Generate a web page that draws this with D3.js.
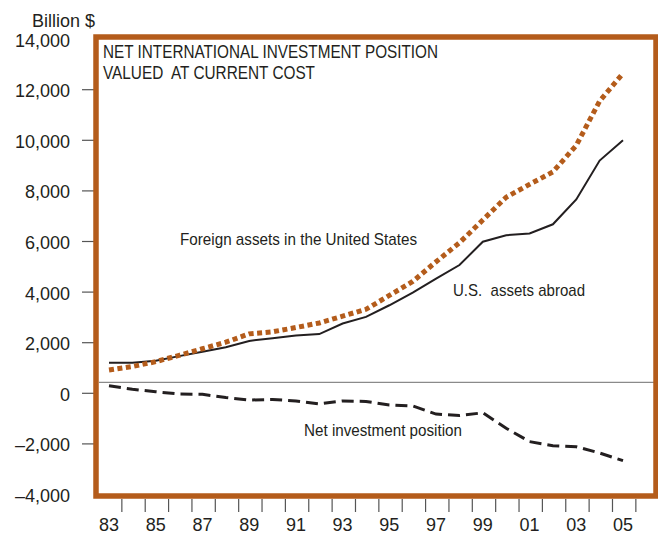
<!DOCTYPE html>
<html>
<head>
<meta charset="utf-8">
<script src="https://cdn.jsdelivr.net/npm/d3@7"></script>
<style>
  body { margin: 0; background: #fff; }
  text { font-family: "Liberation Sans", Arial, Helvetica, sans-serif; fill: #231f20; }
</style>
</head>
<body>
<svg id="chart" width="658" height="536"></svg>
<script>
// Data (billion $)
const years = d3.range(1983, 2006);
const foreignAssets = [920, 1060, 1250, 1500, 1760, 2020, 2350, 2430, 2600, 2780, 3050, 3320,
  3870, 4420, 5200, 5950, 6850, 7750, 8260, 8750, 9800, 11550, 12650];
const usAssets = [1210, 1210, 1290, 1470, 1640, 1820, 2070, 2180, 2280, 2340, 2760, 3020,
  3480, 3980, 4530, 5070, 5990, 6250, 6320, 6680, 7660, 9200, 10000];
const netPosition = [300, 160, 60, -30, -40, -170, -265, -245, -300, -420, -300, -320,
  -460, -500, -820, -880, -770, -1380, -1910, -2070, -2110, -2360, -2660];
const yTickValues = [14000, 12000, 10000, 8000, 6000, 4000, 2000, 0, -2000, -4000];
const yTickLabels = ['14,000', '12,000', '10,000', '8,000', '6,000', '4,000', '2,000', '0', '–2,000', '–4,000'];
const xLabelYears = [1983, 1985, 1987, 1989, 1991, 1993, 1995, 1997, 1999, 2001, 2003, 2005];
const xLabels = ['83', '85', '87', '89', '91', '93', '95', '97', '99', '01', '03', '05'];
const refLineValue = 430; // thin grey rule, drawn a little above zero as in the original

const svg = d3.select('#chart');
const orange = '#b45c1b';

const x = d3.scaleLinear().domain([1983, 2005]).range([109, 623]);
const y = d3.scaleLinear().domain([-4000, 14000]).range([494.5, 39.1]);

// "Billion $"
svg.append('text').attr('x', 32).attr('y', 27)
  .style('font-size', '18px').text('Billion $');

// y ticks and labels (outside the frame)
const yAxis = svg.append('g');
yAxis.selectAll('line')
  .data(yTickValues.filter(v => v > -4000 && v < 14000))
  .join('line')
  .attr('x1', 82).attr('x2', 95)
  .attr('y1', d => y(d)).attr('y2', d => y(d))
  .attr('stroke', '#555').attr('stroke-width', 1.2);
yAxis.selectAll('text')
  .data(yTickValues)
  .join('text')
  .attr('x', 70).attr('y', d => y(d) + 7.5)
  .attr('text-anchor', 'end')
  .style('font-size', '18px')
  .text((d, i) => yTickLabels[i]);

// x ticks (one per year, between labels) and labels
const xAxis = svg.append('g');
xAxis.selectAll('line')
  .data(years)
  .join('line')
  .attr('x1', d => x(d + 0.55)).attr('x2', d => x(d + 0.55))
  .attr('y1', 499).attr('y2', 512)
  .attr('stroke', '#555').attr('stroke-width', 1.2);
xAxis.selectAll('text')
  .data(xLabelYears)
  .join('text')
  .attr('x', d => x(d)).attr('y', 531)
  .attr('text-anchor', 'middle')
  .style('font-size', '18px')
  .text((d, i) => xLabels[i]);

// grey rule near zero
svg.append('line')
  .attr('x1', 99).attr('x2', 654)
  .attr('y1', y(refLineValue)).attr('y2', y(refLineValue))
  .attr('stroke', '#8a8a8a').attr('stroke-width', 1.3);

// lines
const line = d3.line().x((d, i) => x(years[i])).y(d => y(d));

svg.append('path')
  .attr('d', line(usAssets))
  .attr('fill', 'none').attr('stroke', '#231f20').attr('stroke-width', 2);

svg.append('path')
  .attr('d', line(netPosition))
  .attr('fill', 'none').attr('stroke', '#231f20').attr('stroke-width', 3)
  .attr('stroke-dasharray', '12,6');

svg.append('path')
  .attr('d', line(foreignAssets))
  .attr('fill', 'none').attr('stroke', orange).attr('stroke-width', 5)
  .attr('stroke-dasharray', '5,3.5');

// frame
svg.append('rect')
  .attr('x', 96).attr('y', 37).attr('width', 560).attr('height', 459)
  .attr('fill', 'none').attr('stroke', orange).attr('stroke-width', 5.5);

// title
svg.append('text').attr('x', 103).attr('y', 58)
  .attr('textLength', 335).attr('lengthAdjust', 'spacingAndGlyphs')
  .style('font-size', '18px').text('NET INTERNATIONAL INVESTMENT POSITION');
svg.append('text').attr('x', 103).attr('y', 79)
  .attr('textLength', 212).attr('lengthAdjust', 'spacingAndGlyphs')
  .style('font-size', '18px').attr('xml:space', 'preserve').text('VALUED  AT CURRENT COST');

// series labels
svg.append('text').attr('x', 180).attr('y', 245)
  .attr('textLength', 237).attr('lengthAdjust', 'spacingAndGlyphs')
  .style('font-size', '17px').text('Foreign assets in the United States');
svg.append('text').attr('x', 453).attr('y', 296)
  .attr('textLength', 132).attr('lengthAdjust', 'spacingAndGlyphs')
  .style('font-size', '17px').attr('xml:space', 'preserve').text('U.S.  assets abroad');
svg.append('text').attr('x', 304).attr('y', 436)
  .attr('textLength', 158).attr('lengthAdjust', 'spacingAndGlyphs')
  .style('font-size', '17px').text('Net investment position');
</script>
</body>
</html>
